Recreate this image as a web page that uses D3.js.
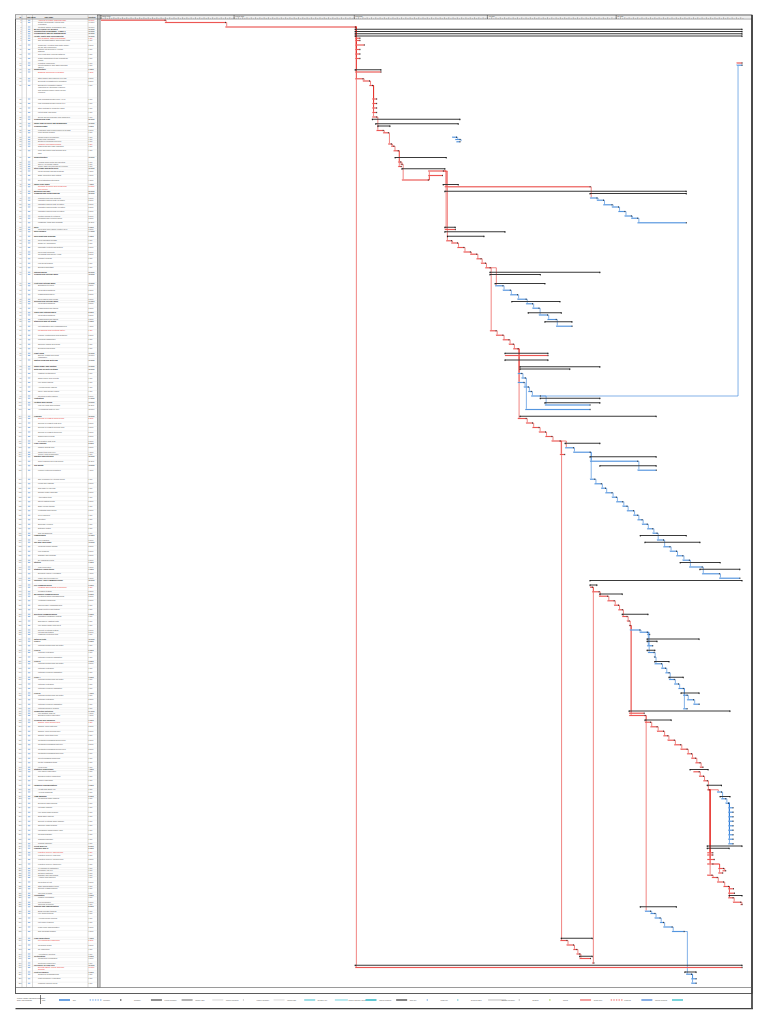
<!DOCTYPE html>
<html>
<head>
<meta charset="utf-8">
<script src="https://cdn.jsdelivr.net/npm/d3@7"></script>
<style>
  body { margin: 0; background: #fff; }
  svg text { font-family: "Liberation Sans", Arial, sans-serif; }
</style>
</head>
<body>
<div id="chart"></div>
<script>
// time span of the schedule (days are counted from projectStart)
const projectStart = new Date(2021, 0, 1);
const projectEnd = new Date(2021, 4, 31);

// [row, start day, finish day, type, predecessor row, task name]
// type: s summary, c critical, C critical (flagged name), n non-critical
const preConstruction = [
  [1, 0, 14.9, "C", null, "Approval of outline business case and funding"],
  [2, 14.9, 29, "c", 1, "Tender documents, returns and evaluation"],
  [4, 29, 59.2, "c", 2, "Contract award, mobilisation and lead-in period"],
  [5, 59.2, 149.3, "s", null, "MAIN CONTRACT WORKS"],
  [6, 59.2, 149.3, "s", null, "Construction programme - Phase 1 building"],
  [7, 59.2, 149.3, "s", null, "Preliminaries and site management"],
  [8, 59.2, 149.3, "s", null, "Health, safety and environmental controls"],
  [9, 59.2, 60.3, "C", 4, "Site hoarding, gates and signage"],
  [10, 59.2, 60.3, "c", 4, "Site accommodation and welfare units"],
  [12, 59.2, 61.3, "c", 4, "Temporary electrics and water supply for the site compound"],
  [14, 59.2, 60.3, "c", 4, "Setting out and survey control stations"],
  [16, 59.2, 60.3, "c", 4, "Tree protection fencing installed"],
  [18, 59.2, 60.3, "c", 4, "Traffic management and pedestrian routes"],
  [20, 148.1, 149.3, "c", null, "Practical completion"],
  [21, 148.1, 149.3, "n", 168, "Client handover and O&M manuals issued"]
];

const substructure = [
  [23, 59.2, 65.2, "s", null, "Substructure"],
  [24, 59.2, 65.2, "C", 4, "Enabling works and excavation"],
  [27, 59.2, 61, "c", 4, "Strip topsoil and reduced level dig"],
  [28, 61, 62.5, "c", 27, "Excavate foundations to formation"],
  [30, 62.5, 63.2, "c", 28, "Blinding to foundation bases, inspection by structural engineer and building control officer before concrete"],
  [36, 63.2, 64.2, "c", 30, "Pad foundations grid lines A to C"],
  [38, 63.2, 64.2, "c", 30, "Pad foundations grid lines D to F"],
  [40, 63.2, 64.2, "c", 30, "Strip footings to perimeter walls"],
  [42, 63.2, 64.2, "c", 30, "Lift pit base and walls"],
  [44, 63.2, 64.2, "c", 30, "Below ground drainage and manholes"],
  [45, 63.2, 83.6, "s", null, "Ground floor slab"],
  [47, 64, 83.2, "s", null, "Under slab services and membranes"],
  [48, 64.5, 67.3, "s", null, "Ground beams"],
  [50, 64.2, 65.7, "c", 44, "Formwork and reinforcement to beams"],
  [51, 65.7, 66.9, "c", 50, "Pour ground beams"],
  [53, 81.8, 82.8, "n", null, "Radon barrier membrane"],
  [54, 82.5, 83.6, "n", 53, "Slab edge insulation"],
  [55, 82.8, 83.6, "n", 54, "Ducts for incoming services"],
  [56, 66.9, 67.6, "C", 51, "Hardcore and sand blinding"],
  [57, 67.6, 68.2, "c", 56, "Slab mesh and edge formwork"],
  [59, 68.2, 69.2, "c", 57, "Pour and power float ground floor slab"]
];

const superstructure = [
  [62, 68.5, 80.4, "s", null, "Superstructure"],
  [64, 69.2, 69.8, "c", 59, "Holding down bolts and grouting"],
  [65, 69.8, 70.1, "c", 64, "Survey of column bases"],
  [66, 69.2, 69.9, "c", 59, "Crane base and access for erection"],
  [67, 70.1, 80.1, "s", null, "Steel frame and metal deck"],
  [68, 76.2, 79.7, "c", 72, "Metal decking and shear studs"],
  [70, 76.2, 79.5, "c", 72, "Edge protection and netting"],
  [72, 70.1, 76.2, "c", 65, "Erect structural steelwork"],
  [74, 79.7, 83.2, "s", null, "Upper floor slabs"],
  [75, 80.1, 113.9, "C", 68, "Concrete to upper floor decks and cure period"],
  [77, 80.1, 136.3, "s", null, "Building envelope"],
  [78, 113.9, 136.3, "s", null, "Cladding and curtain walling"],
  [80, 113.9, 115.5, "n", 75, "Cladding rails and brackets"],
  [81, 115.5, 117, "n", 80, "Insulated panels north elevation"],
  [83, 117, 119, "n", 81, "Insulated panels east elevation"],
  [84, 119, 120.5, "n", 83, "Insulated panels south elevation"],
  [86, 120.5, 122, "n", 84, "Insulated panels west elevation"],
  [88, 122, 123.5, "n", 86, "Curtain walling to entrance"],
  [89, 123.5, 125, "n", 88, "Windows and external doors"],
  [91, 125, 136.3, "n", 89, "Flashings, trims and sealants"]
];

const roofAndInternals = [
  [93, 80.1, 82.5, "s", null, "Roof"],
  [94, 80.1, 82.5, "c", 68, "Roof deck and vapour control layer"],
  [95, 80.1, 94.1, "s", null, "Roof finishes"],
  [97, 80.7, 89.2, "s", null, "Roof plant and drainage"],
  [99, 80.4, 81.6, "c", 68, "Roof insulation boards"],
  [100, 81.6, 83, "c", 99, "Single ply membrane"],
  [102, 83, 84.5, "c", 100, "Rainwater outlets and gutters"],
  [104, 84.5, 86, "c", 102, "Roof plant supports"],
  [105, 86, 87.5, "c", 104, "Rooflights and smoke vents"],
  [107, 87.5, 88.5, "c", 105, "Parapet copings"],
  [109, 88.5, 89.5, "c", 107, "Fall arrest system"],
  [111, 89.5, 90.6, "c", 109, "Building watertight"],
  [113, 90.6, 116.2, "s", null, "Internal works"],
  [114, 90.6, 102.3, "s", null, "Ground floor internal walls"],
  [118, 91.8, 103.4, "s", null, "First floor internal walls"],
  [119, 91.8, 93.6, "n", 111, "Blockwork to cores"],
  [121, 93.6, 95.3, "n", 119, "Metal stud partitions"],
  [123, 95.3, 97, "n", 121, "Plasterboard first fix"],
  [125, 97, 99, "n", 123, "Door frames and linings"],
  [126, 95.7, 106.9, "s", null, "Second floor internal walls"],
  [127, 99, 100.5, "n", 125, "Metal stud partitions"],
  [129, 100.5, 102, "n", 127, "Plasterboard and taping"],
  [131, 99.5, 107.2, "s", null, "Third floor internal walls"],
  [132, 102, 104, "n", 129, "Metal stud partitions"],
  [134, 104, 106, "n", 132, "Plasterboard and taping"],
  [135, 103.4, 109.7, "s", null, "Staircores and lift shafts"],
  [137, 106, 109.7, "n", 134, "Lift installation and commissioning"]
];

const servicesAndFinishes = [
  [139, 90.6, 92, "C", 111, "Mechanical and electrical first fix"],
  [141, 92, 93.6, "c", 139, "Primary containment and ductwork"],
  [143, 93.6, 95, "c", 141, "Pipework distribution"],
  [145, 95, 96, "c", 143, "Sprinkler mains and drops"],
  [147, 96, 97.1, "c", 145, "Electrical sub-mains"],
  [149, 94.1, 104.1, "s", null, "Plant room"],
  [150, 94.1, 104.1, "c", null, "Boilers, pumps and plant installation"],
  [152, 94.1, 104.1, "s", null, "Switch room and metering"],
  [155, 97.6, 116.2, "s", null, "Small power and lighting"],
  [156, 97.6, 109.2, "s", null, "Data and security systems"],
  [158, 97.1, 98, "n", 147, "Lighting containment"],
  [160, 98, 98.8, "n", 158, "Small power final circuits"],
  [162, 97.1, 98.5, "n", 147, "Fire alarm cabling"],
  [164, 98.5, 99.5, "n", 162, "Access control cabling"],
  [166, 99.5, 100.2, "n", 164, "CCTV and intruder alarm"],
  [168, 100.2, 102.3, "n", 166, "Structured data cabling"],
  [169, 102.3, 116.2, "s", null, "Ventilation"],
  [171, 103.4, 116.2, "s", null, "Heating and cooling"],
  [172, 103.4, 113.9, "n", 168, "Fan coil units and controls"],
  [174, 98.8, 113.9, "n", 160, "Air handling units on roof"],
  [177, 97.6, 129.3, "s", null, "Finishes"],
  [178, 97.1, 99, "C", 147, "Second fix M&E to ground floor"],
  [180, 99, 100.5, "c", 178, "Second fix M&E to first floor"],
  [182, 100.5, 102, "c", 180, "Second fix M&E to second floor"],
  [184, 102, 103.5, "c", 182, "Second fix M&E to third floor"],
  [186, 103.5, 105, "c", 184, "Suspended ceilings"],
  [188, 105, 106.9, "c", 186, "Decoration mist coat"],
  [189, 108.1, 116.2, "s", null, "Floor finishes"],
  [191, 108.1, 110, "n", 188, "Raised access floor"],
  [193, 110, 113.9, "n", 191, "Carpet tiles and vinyl"],
  [194, 106.9, 108, "c", 188, "Joinery and ironmongery"],
  [195, 113.9, 129.3, "s", null, "Sanitary and kitchens"],
  [197, 113.9, 125, "n", 193, "Toilet cubicles and IPS panels"],
  [199, 116.2, 129.3, "s", null, "Tea points"],
  [201, 125, 129.3, "n", 197, "Kitchen units and worktops"]
];

const externalWorks = [
  [205, 113.9, 115, "n", 193, "Site clearance to external areas"],
  [207, 115, 116.5, "n", 205, "Kerbs and edgings"],
  [209, 116.5, 117.5, "n", 207, "Sub-base to car park"],
  [211, 117.5, 119, "n", 209, "Surface water drainage"],
  [213, 119, 120, "n", 211, "Attenuation tank"],
  [215, 120, 121.5, "n", 213, "Street lighting ducts"],
  [217, 121.5, 122.5, "n", 215, "Base course tarmac"],
  [219, 122.5, 124, "n", 217, "Footpaths and paving"],
  [221, 124, 125, "n", 219, "Cycle shelters"],
  [223, 125, 126, "n", 221, "Bin store"],
  [225, 126, 127.2, "n", 223, "Boundary fencing"],
  [227, 127.2, 128.5, "n", 225, "Entrance gates"],
  [229, 128.5, 129.5, "n", 227, "Soft landscaping"],
  [230, 125.6, 136.3, "s", null, "Landscaping"],
  [232, 129.5, 131, "n", 229, "Tree planting"],
  [233, 126.7, 139.5, "s", null, "Car park and roads"],
  [235, 131, 132.5, "n", 232, "Wearing course tarmac"],
  [237, 132.5, 134, "n", 235, "Line marking"],
  [239, 134, 135.5, "n", 237, "Signage and bollards"],
  [241, 135.5, 137, "n", 239, "EV charging points"],
  [242, 134.9, 144.2, "s", null, "Utilities"],
  [244, 137, 140, "n", 241, "Gas connection"],
  [245, 139.5, 148.8, "s", null, "Statutory connections"],
  [247, 140, 144, "n", 244, "Electricity supply energised"],
  [249, 144, 148.8, "n", 247, "Water and telecoms live"]
];

const commissioning = [
  [250, 113.9, 149.3, "s", null, "TESTING AND COMMISSIONING"],
  [252, 113.9, 115.5, "s", null, "Pre-commissioning"],
  [253, 113.9, 114.4, "C", null, "Flushing and cleaning of pipework"],
  [255, 114.4, 116, "c", 253, "Pressure testing"],
  [256, 116.2, 121.4, "s", null, "Mechanical commissioning"],
  [257, 116, 118, "c", 255, "Heating system commissioning"],
  [259, 118, 119.5, "c", 257, "Ventilation balancing"],
  [261, 119.5, 120.5, "c", 259, "Chilled water commissioning"],
  [263, 120.5, 121.4, "c", 261, "BMS point to point testing"],
  [265, 121.4, 127.4, "s", null, "Electrical commissioning"],
  [266, 121.4, 122.5, "c", 263, "Insulation resistance testing"],
  [268, 122.5, 123, "c", 266, "Emergency lighting tests"],
  [270, 123, 123.2, "c", 268, "Fire alarm cause and effect"],
  [272, 123.2, 125.5, "n", 270, "Security systems testing"],
  [273, 125.5, 127.2, "n", 272, "Lift witness testing"],
  [274, 127.2, 127.8, "n", 273, "Lightning protection test"],
  [276, 127.2, 139.3, "s", null, "Witness tests"],
  [277, 127.2, 129.5, "s", null, "Level 1"],
  [279, 127.2, 128.5, "n", 273, "Witness heating and hot water"],
  [281, 127.2, 129, "s", null, "Level 2"],
  [282, 127.4, 128.8, "n", 273, "Witness ventilation"],
  [284, 128.8, 129, "n", 282, "Witness electrical installation"],
  [286, 129, 132.3, "s", null, "Level 3"],
  [287, 129, 130.5, "n", 284, "Witness heating and hot water"],
  [289, 130.5, 131.5, "n", 287, "Witness ventilation"],
  [291, 131.5, 132.3, "n", 289, "Witness electrical installation"],
  [293, 132.3, 135.6, "s", null, "Level 4"],
  [294, 132.3, 133.5, "n", 291, "Witness heating and hot water"],
  [296, 133.5, 134.5, "n", 294, "Witness ventilation"],
  [298, 134.5, 135.6, "n", 296, "Witness electrical installation"],
  [300, 135.1, 139.3, "s", null, "Level 5"],
  [301, 135.6, 136.5, "n", 298, "Witness heating and hot water"],
  [303, 136.5, 138, "n", 301, "Witness ventilation"],
  [305, 138, 139.3, "n", 303, "Witness electrical installation"],
  [307, 135.6, 136.5, "n", 298, "Witness sprinkler system"],
  [308, 123, 146.5, "s", null, "Completion activities"],
  [309, 123, 126.5, "c", 270, "Fire strategy sign off"],
  [310, 123, 126.7, "c", 270, "Building control inspection"],
  [312, 126.7, 132.8, "s", null, "Cleaning and snagging"]
];

const completion = [
  [313, 126.7, 128, "C", 310, "Sparkle clean ground floor"],
  [315, 128, 129.5, "c", 313, "Sparkle clean first floor"],
  [317, 129.5, 131, "c", 315, "Sparkle clean second floor"],
  [319, 131, 132, "c", 317, "Sparkle clean third floor"],
  [321, 132, 133.5, "c", 319, "Contractor snagging ground floor"],
  [323, 133.5, 135, "c", 321, "Contractor snagging first floor"],
  [325, 135, 136.5, "c", 323, "Contractor snagging second floor"],
  [327, 136.5, 137.5, "c", 325, "Contractor snagging third floor"],
  [329, 137.5, 138.5, "c", 327, "Client snagging walkround"],
  [331, 138.5, 139.5, "c", 329, "Rectify snagging items"],
  [333, 139.5, 140.2, "c", 331, "Final clean"],
  [334, 137.2, 141.4, "s", null, "Statutory inspections"],
  [335, 138, 139.3, "c", null, "Fire officer inspection"],
  [337, 139.3, 140.3, "c", 335, "Building control completion"],
  [339, 140.3, 141.2, "c", 337, "Insurer inspection"],
  [341, 141.2, 144.5, "s", null, "Handover documentation"],
  [343, 141.2, 141.6, "c", 339, "Health and safety file"],
  [344, 143.5, 144.5, "n", 343, "As-built drawings"],
  [346, 144.2, 146.5, "s", null, "O&M manuals"],
  [347, 144.5, 145.5, "n", 344, "Mechanical O&M manual"],
  [349, 145.5, 146.1, "n", 347, "Electrical O&M manual"],
  [351, 146.1, 147.2, "n", 349, "Lift O&M manual"],
  [353, 146.1, 147.2, "n", 349, "Fire alarm O&M manual"],
  [355, 146.1, 147.2, "n", 349, "BMS O&M manual"],
  [357, 146.1, 147.2, "n", 349, "Security systems O&M manual"],
  [359, 146.1, 147.2, "n", 349, "Sprinkler O&M manual"],
  [361, 146.1, 147.2, "n", 349, "Landscape maintenance plan"],
  [363, 146.1, 147.2, "n", 349, "Roofing warranty"],
  [365, 146.1, 147.2, "n", 349, "Cladding warranty"],
  [367, 146.1, 147.2, "n", 349, "Glazing warranty"],
  [368, 141.2, 149.3, "s", null, "Client move-in"],
  [369, 141.2, 146.3, "s", null, "Furniture and IT"],
  [371, 141.2, 142.5, "C", 343, "Furniture delivery ground floor"],
  [372, 141.2, 142.5, "c", 343, "Furniture delivery first floor"],
  [374, 141.2, 142.8, "c", 343, "Furniture delivery second floor"],
  [376, 141.2, 142.5, "c", 343, "Furniture delivery third floor"],
  [378, 143.8, 145, "c", 376, "IT equipment installation"],
  [379, 144.8, 145.5, "c", 378, "Telephony go-live"],
  [380, 143.8, 144.8, "c", 376, "Network switches"],
  [381, 141.2, 142.3, "c", 343, "Signage and wayfinding"],
  [382, 142.3, 143.5, "c", 381, "Artwork and displays"],
  [384, 143.5, 145, "c", 382, "Reception fit-out"],
  [386, 145, 146.1, "c", 384, "Staff familiarisation tours"],
  [387, 146.1, 147.3, "c", 386, "Security passes issued"],
  [389, 146.1, 147.5, "c", 386, "Car park permits"],
  [390, 146.3, 149.3, "s", null, "Occupation"],
  [391, 146.1, 147.2, "c", 386, "Phased occupation"],
  [393, 147.2, 149, "c", 391, "Full occupation"],
  [394, 149, 149.3, "c", 393, "Opening ceremony"]
];

const closeOut = [
  [395, 125.6, 134, "s", null, "Training and familiarisation"],
  [397, 126.7, 128, "n", 310, "BMS operator training"],
  [398, 128, 129, "n", 397, "Fire alarm training"],
  [400, 129, 130.2, "n", 398, "Access control training"],
  [402, 130.2, 131, "n", 400, "Lift rescue training"],
  [404, 131, 133, "n", 402, "Plant room familiarisation"],
  [406, 133, 135.8, "n", 404, "Soft landings session"],
  [409, 107.2, 114.4, "s", null, "Final inspections"],
  [410, 107, 108.5, "C", 188, "Pre-completion inspection"],
  [412, 108.5, 110, "c", 410, "Remedial works"],
  [414, 110, 110.8, "c", 412, "Re-inspection"],
  [416, 110.8, 111.5, "c", 414, "Acceptance meeting"],
  [417, 111.5, 114.4, "s", null, "Certification"],
  [418, 111.5, 114, "c", 416, "Completion certificates"],
  [420, 114.4, 114.8, "c", 253, "Sectional completion"],
  [421, 59.2, 149.3, "s", null, "PROJECT CLOSE-OUT"],
  [422, 59.2, 149.3, "C", 4, "Defects liability period and final account"],
  [424, 136, 138.6, "s", null, "Post occupancy"],
  [425, 136.3, 137.5, "n", 406, "Seasonal commissioning"],
  [427, 137.5, 138.6, "n", 425, "Post occupancy evaluation"],
  [429, 137.5, 138.6, "n", 425, "Lessons learned report"]
];

const tableHeaders = ["ID", "Task Mode", "Task Name", "Duration"];
const footerLines = ["Project: Phase 1 Building Programme", "Date: Mon 31/05/21"];
const legendLabels = ["Task", "Split", "Milestone", "Summary", "Project Summary", "Inactive Task",
  "Inactive Milestone", "Inactive Summary", "Manual Task", "Duration-only", "Manual Summary Rollup",
  "Manual Summary", "Start-only", "Finish-only", "External Tasks", "External Milestone", "Deadline",
  "Critical", "Critical Split", "Progress", "Manual Progress"];
const legendKinds = ["task", "split", "milestone", "summary", "projectSummary", "inactiveTask",
  "inactiveMilestone", "inactiveSummary", "manualTask", "durationOnly", "manualRollup",
  "manualSummary", "startOnly", "finishOnly", "externalTasks", "externalMilestone", "deadline",
  "critical", "criticalSplit", "progress", "manualProgress"];

// ---------------------------------------------------------------
const RED = "#e8332e", PINK = "#f6aaa8", BLUE = "#2f7ed8", DARK = "#3a3a3a";
const W = 768, H = 1024;
const tableLeft = 15.5, colId = 22, colInd = 26.5, colName = 32.5, colDur = 88, tableRight = 97.5;

const tasks = [].concat(preConstruction, substructure, superstructure, roofAndInternals,
  servicesAndFinishes, externalWorks, commissioning, completion, closeOut)
  .map(t => ({ row: t[0], start: t[1], end: t[2], type: t[3], pred: t[4], name: t[5] }))
  .sort((a, b) => a.row - b.row);
tasks.forEach((t, i) => {
  t.id = i + 1;
  t.next = i < tasks.length - 1 ? tasks[i + 1].row : 431;
  t.crit = t.type === "c" || t.type === "C";
});
const byRow = new Map(tasks.map(t => [t.row, t]));

const at = d => new Date(+projectStart + d * 864e5);
const x = d3.scaleTime().domain([projectStart, projectEnd]).range([101, 745]);
const y = d3.scaleLinear().domain([0, 430]).range([18, 985.5]);

const svg = d3.select("#chart").append("svg")
  .attr("width", W).attr("height", H).attr("viewBox", `0 0 ${W} ${H}`);

// ---------- frame ----------
const frame = svg.append("g").attr("class", "frame");
frame.append("rect").attr("x", tableLeft).attr("y", 15).attr("width", 752 - tableLeft).attr("height", 993 - 15 + 0.5)
  .attr("fill", "none").attr("stroke", "#333").attr("stroke-width", 0.8);
frame.append("line").attr("x1", 752).attr("x2", 752).attr("y1", 15).attr("y2", 1009)
  .attr("stroke", "#333").attr("stroke-width", 1.6);
frame.append("line").attr("x1", tableLeft).attr("x2", 752).attr("y1", 987.5).attr("y2", 987.5)
  .attr("stroke", "#555").attr("stroke-width", 0.6);
frame.append("line").attr("x1", tableLeft).attr("x2", 753).attr("y1", 1008.6).attr("y2", 1008.6)
  .attr("stroke", "#444").attr("stroke-width", 1.4);

// ---------- table ----------
const table = svg.append("g").attr("class", "table");
table.append("rect").attr("x", tableLeft).attr("y", 15).attr("width", tableRight - tableLeft).attr("height", 4)
  .attr("fill", "#eeeeee");
[colId, colInd, colName, colDur].forEach(cx => {
  table.append("line").attr("x1", cx).attr("x2", cx).attr("y1", 15).attr("y2", 987.5)
    .attr("stroke", "#9a9a9a").attr("stroke-width", 0.35);
});
table.append("rect").attr("x", tableRight).attr("y", 15).attr("width", 2.6).attr("height", 972.5)
  .attr("fill", "#c8c8c8").attr("stroke", "#555").attr("stroke-width", 0.5);
table.append("line").attr("x1", tableLeft).attr("x2", 752).attr("y1", 19).attr("y2", 19)
  .attr("stroke", "#444").attr("stroke-width", 0.5);

const headerX = [colId - 0.8, colInd + 0.5, colName + 12, colDur + 0.6];
table.selectAll("text.hdr").data(tableHeaders).join("text").attr("class", "hdr")
  .attr("x", (d, i) => headerX[i]).attr("y", 18)
  .attr("text-anchor", (d, i) => i === 0 ? "end" : "start")
  .attr("font-size", 1.7).attr("font-weight", "bold").attr("fill", "#222").text(d => d);

const rowsG = table.selectAll("g.row").data(tasks).join("g").attr("class", "row");
rowsG.append("line")
  .attr("x1", tableLeft).attr("x2", tableRight)
  .attr("y1", d => y(d.row) - 1.1).attr("y2", d => y(d.row) - 1.1)
  .attr("stroke", "#d4d4d4").attr("stroke-width", 0.25);
rowsG.append("text")
  .attr("x", colId - 0.6).attr("y", d => y(d.row) + 0.7)
  .attr("text-anchor", "end").attr("font-size", 1.6).attr("fill", "#666").text(d => d.id);
rowsG.append("rect")
  .attr("x", colInd + 1.4).attr("y", d => y(d.row) - 0.4).attr("width", 2.4).attr("height", 0.8)
  .attr("fill", "#7aa9e0");
rowsG.append("text")
  .attr("x", colDur + 0.6).attr("y", d => y(d.row) + 0.7)
  .attr("font-size", 1.6).attr("fill", d => d.type === "C" ? RED : "#555")
  .attr("font-weight", d => d.type === "s" ? "bold" : null)
  .text(d => {
    const n = Math.max(1, Math.round(d.end - d.start));
    return n + (n === 1 ? " day" : " days");
  });

function wrap(name, maxChars, maxLines) {
  const words = name.split(" "), lines = [];
  let cur = "";
  words.forEach(w => {
    if ((cur + " " + w).trim().length > maxChars && cur) { lines.push(cur); cur = w; }
    else cur = (cur + " " + w).trim();
  });
  if (cur) lines.push(cur);
  return lines.slice(0, Math.max(1, maxLines));
}
rowsG.each(function (d) {
  const indent = d.type === "s" ? 1.5 : 5.5;
  const lines = wrap(d.name, d.type === "s" ? 40 : 36, d.next - d.row);
  d3.select(this).selectAll("text.nm").data(lines).join("text").attr("class", "nm")
    .attr("x", colName + indent).attr("y", (l, i) => y(d.row + i) + 0.7)
    .attr("font-size", 1.9)
    .attr("font-weight", d.type === "s" ? "bold" : null)
    .attr("fill", d.type === "C" ? RED : d.type === "s" ? "#222" : "#555")
    .text(l => l);
});

// ---------- timescale ----------
const scale = svg.append("g").attr("class", "timescale");
const months = d3.timeMonth.range(projectStart, projectEnd);
scale.selectAll("line.mon").data(months).join("line").attr("class", "mon")
  .attr("x1", d => x(d)).attr("x2", d => x(d)).attr("y1", 15).attr("y2", 19)
  .attr("stroke", "#444").attr("stroke-width", 0.6);
scale.selectAll("text.mon").data(months).join("text").attr("class", "mon")
  .attr("x", d => x(d) + 1).attr("y", 16.6).attr("font-size", 1.4).attr("fill", "#333")
  .text(d3.timeFormat("%B %Y"));
scale.append("line").attr("x1", 100).attr("x2", 752).attr("y1", 17).attr("y2", 17)
  .attr("stroke", "#888").attr("stroke-width", 0.3);
const days = d3.timeDay.range(projectStart, projectEnd);
scale.selectAll("line.day").data(days).join("line").attr("class", "day")
  .attr("x1", d => x(d)).attr("x2", d => x(d)).attr("y1", 17.3).attr("y2", 18.8)
  .attr("stroke", "#555").attr("stroke-width", 0.4);
scale.selectAll("text.day").data(days).join("text").attr("class", "day")
  .attr("x", d => x(d) + 2.1).attr("y", 18.6).attr("text-anchor", "middle")
  .attr("font-size", 1.2).attr("fill", "#555").text(d => "SMTWTFS"[d.getDay()]);

// ---------- links ----------
const links = tasks.filter(t => t.pred !== null && byRow.has(t.pred))
  .map(t => ({ source: byRow.get(t.pred), target: t }));
svg.append("g").attr("class", "links").selectAll("path").data(links).join("path")
  .attr("fill", "none")
  .attr("stroke", d => d.source.crit ? RED : BLUE)
  .attr("stroke-width", 0.6)
  .attr("d", d => {
    const x0 = x(at(d.source.end)), y0 = y(d.source.row);
    const xs = x(at(d.target.start)) + 1.2, ys = y(d.target.row);
    const xt = Math.max(xs, x0 + 1.2);
    const ye = ys > y0 ? ys - 0.6 : ys + 0.6;
    return `M${x0},${y0}H${xt}V${ye}`;
  });

// ---------- bars ----------
const bars = svg.append("g").attr("class", "bars");
const summary = tasks.filter(t => t.type === "s");
const work = tasks.filter(t => t.type !== "s");

bars.selectAll("rect.sum").data(summary).join("rect").attr("class", "sum")
  .attr("x", d => x(at(d.start))).attr("width", d => x(at(d.end)) - x(at(d.start)))
  .attr("y", d => y(d.row) - 0.5).attr("height", 1.0).attr("fill", DARK);
bars.selectAll("path.cap").data(summary.flatMap(d => [[d.start, d.row], [d.end, d.row]])).join("path")
  .attr("class", "cap").attr("fill", "#111")
  .attr("d", d => {
    const cx = x(at(d[0])), cy = y(d[1]);
    return `M${cx - 0.55},${cy - 0.5}h1.1v1l-0.55,0.7l-0.55,-0.7z`;
  });

bars.selectAll("rect.task").data(work).join("rect").attr("class", "task")
  .attr("x", d => x(at(d.start)))
  .attr("width", d => Math.max(0.8, x(at(d.end)) - x(at(d.start))))
  .attr("y", d => y(d.row) - 0.5).attr("height", 1.0)
  .attr("fill", d => d.crit ? RED : BLUE)
  .attr("stroke", d => d.crit ? PINK : "#a9cbef").attr("stroke-width", 0.3);
bars.selectAll("rect.end").data(work).join("rect").attr("class", "end")
  .attr("x", d => x(at(d.end)) - 0.3).attr("y", d => y(d.row) - 0.65)
  .attr("width", 0.8).attr("height", 1.3).attr("fill", "#1c1c1c");

// ---------- legend ----------
const legend = svg.append("g").attr("class", "legend");
legend.selectAll("text.foot").data(footerLines).join("text").attr("class", "foot")
  .attr("x", 17).attr("y", (d, i) => 998.5 + i * 2.4).attr("font-size", 1.7).attr("fill", "#444").text(d => d);
legend.append("line").attr("x1", 40.5).attr("x2", 40.5).attr("y1", 995).attr("y2", 1004)
  .attr("stroke", "#222").attr("stroke-width", 0.6);

const lx = d3.scalePoint().domain(legendKinds).range([42, 655]);
const item = legend.selectAll("g.item").data(legendKinds).join("g").attr("class", "item")
  .attr("transform", d => `translate(${lx(d)},1000)`);
item.append("text").attr("x", 0).attr("y", 0.6).attr("font-size", 1.6).attr("fill", "#555")
  .text((d, i) => legendLabels[i]);

const symbolStyle = {
  task: { fill: BLUE, w: 11, h: 1.4 },
  split: { fill: "#7fb0ea", w: 11, h: 1.2, dash: true },
  milestone: { fill: "#111", w: 1, h: 1.4 },
  summary: { fill: DARK, w: 11, h: 1.1 },
  projectSummary: { fill: "#777", w: 11, h: 1.1 },
  inactiveTask: { fill: "#e2e2e2", w: 11, h: 1.4 },
  inactiveMilestone: { fill: "#bbb", w: 1, h: 1.2 },
  inactiveSummary: { fill: "#cfcfcf", w: 11, h: 0.8 },
  manualTask: { fill: "#77d1dc", w: 11, h: 1.4 },
  durationOnly: { fill: "#8ddbe4", w: 13, h: 1.2 },
  manualRollup: { fill: "#1fb0bf", w: 11, h: 1.4 },
  manualSummary: { fill: "#222", w: 11, h: 1.1 },
  startOnly: { fill: "#3a86d8", w: 0.8, h: 1.4 },
  finishOnly: { fill: "#1fb0bf", w: 0.8, h: 1.4 },
  externalTasks: { fill: "#bdbdbd", w: 18, h: 1.0 },
  externalMilestone: { fill: "#999", w: 0.9, h: 1.2 },
  deadline: { fill: "#9acd32", w: 1, h: 1.4 },
  critical: { fill: "#f07a78", w: 11, h: 1.4 },
  criticalSplit: { fill: "#f07a78", w: 11, h: 1.2, dash: true },
  progress: { fill: "#3a7bd5", w: 11, h: 1.2 },
  manualProgress: { fill: "#22b8c4", w: 11, h: 1.2 }
};
item.each(function (d) {
  const s = symbolStyle[d], g = d3.select(this);
  if (s.dash) {
    g.selectAll("rect.seg").data(d3.range(0, s.w, 2.6)).join("rect").attr("class", "seg")
      .attr("x", v => 17 + v).attr("y", -s.h / 2).attr("width", 1.4).attr("height", s.h).attr("fill", s.fill);
  } else {
    g.append("rect").attr("x", 17).attr("y", -s.h / 2).attr("width", s.w).attr("height", s.h).attr("fill", s.fill);
  }
});
</script>
</body>
</html>
